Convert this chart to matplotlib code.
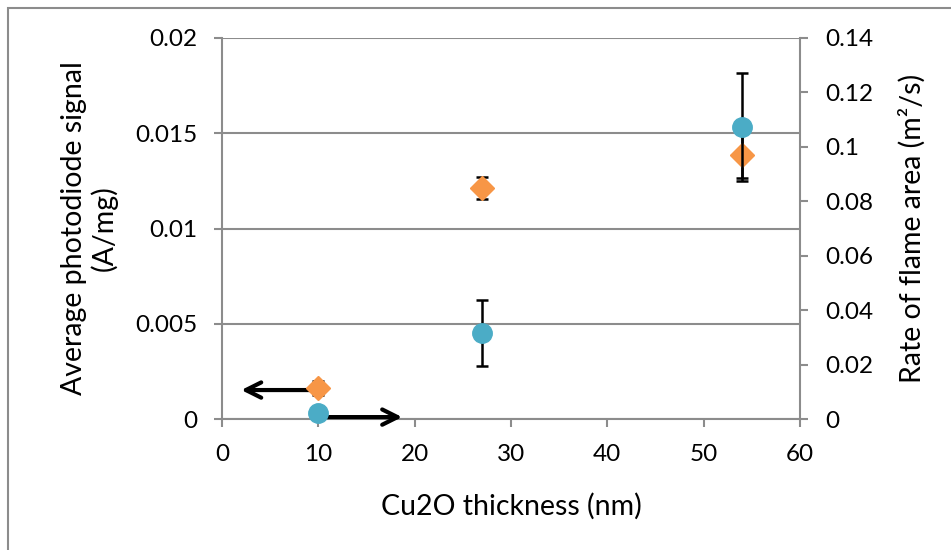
import matplotlib
matplotlib.use("Agg")
import matplotlib.pyplot as plt
from matplotlib.patches import Rectangle

plt.rcParams['font.family'] = ['Lato', 'DejaVu Sans']

# Data
thickness = [10, 27, 54]
photodiode = [0.00163, 0.01213, 0.01386]       # left axis (orange diamonds)
photodiode_err = [0.00035, 0.00058, 0.0012]
flame_rate = [0.0022, 0.0316, 0.1073]           # right axis (blue circles)
flame_rate_err = [0.0, 0.01225, 0.02]

left_ticks = [0, 0.005, 0.01, 0.015, 0.02]
left_ticklabels = ['0', '0.005', '0.01', '0.015', '0.02']
right_ticks = [0, 0.02, 0.04, 0.06, 0.08, 0.1, 0.12, 0.14]
right_ticklabels = ['0', '0.02', '0.04', '0.06', '0.08', '0.1', '0.12', '0.14']
x_ticks = [0, 10, 20, 30, 40, 50, 60]

W, H = 951, 550
fig = plt.figure(figsize=(W / 100, H / 100), dpi=100)
fig.patch.set_facecolor('white')

# frame border (top and left visible)
fig.patches.append(Rectangle((8 / W, -0.1), 1.2, 1 - 8 / H + 0.1, transform=fig.transFigure,
                             fill=False, edgecolor='#8c8c8c', linewidth=1.5))

ax = fig.add_axes([222 / W, 1 - 419 / H, (800 - 222) / W, (419 - 38) / H])
ax2 = ax.twinx()

gray = '#8c8c8c'
fs_tick = 17.5
fs_lab = 20.5

ax.set_xlim(0, 60)
ax.set_ylim(0, 0.02)
ax2.set_ylim(0, 0.14)

ax.set_yticks(left_ticks)
ax.set_yticklabels(left_ticklabels)
ax2.set_yticks(right_ticks)
ax2.set_yticklabels(right_ticklabels)
ax.set_xticks(x_ticks)

for a in (ax, ax2):
    for s in a.spines.values():
        s.set_visible(False)
ax.spines['left'].set_visible(True)
ax.spines['bottom'].set_visible(True)
ax2.spines['right'].set_visible(True)
for s in (ax.spines['left'], ax.spines['bottom'], ax2.spines['right']):
    s.set_color(gray)
    s.set_linewidth(1.5)

ax.grid(axis='y', color=gray, linewidth=1.5)
ax.set_axisbelow(True)
ax.tick_params(axis='both', direction='out', length=6, width=1.5, color=gray,
               labelsize=fs_tick, pad=12, labelcolor='black')
ax2.tick_params(axis='y', direction='out', length=6, width=1.5, color=gray,
                labelsize=fs_tick, pad=12, labelcolor='black')

# arrows
aprops = dict(arrowstyle='->,head_length=1.1,head_width=0.55', color='black', lw=3,
              shrinkA=0, shrinkB=0)
ax.annotate('', xy=(2.0, 0.00152), xytext=(10, 0.00152), arrowprops=aprops, zorder=3)
ax2.annotate('', xy=(18.7, 0.0007), xytext=(10, 0.0007), arrowprops=aprops, zorder=3)

ax.errorbar(thickness, photodiode, yerr=photodiode_err, fmt='D', color='#F79646',
            markersize=12, ecolor='black', elinewidth=1.8, capsize=4.5, capthick=1.8,
            zorder=4, clip_on=False)
ax2.errorbar(thickness, flame_rate, yerr=flame_rate_err, fmt='o', color='#4BACC6',
             markersize=14, ecolor='black', elinewidth=1.8, capsize=4.5, capthick=1.8,
             zorder=4, clip_on=False)

ax.set_xlabel('Cu2O thickness (nm)', fontsize=fs_lab, labelpad=20)
ax.set_ylabel('Average photodiode signal\n(A/mg)', fontsize=fs_lab, labelpad=12, linespacing=1.15)
ax2.set_ylabel('Rate of flame area (m²/s)', fontsize=fs_lab, labelpad=18)

fig.savefig('out.png', dpi=100)
